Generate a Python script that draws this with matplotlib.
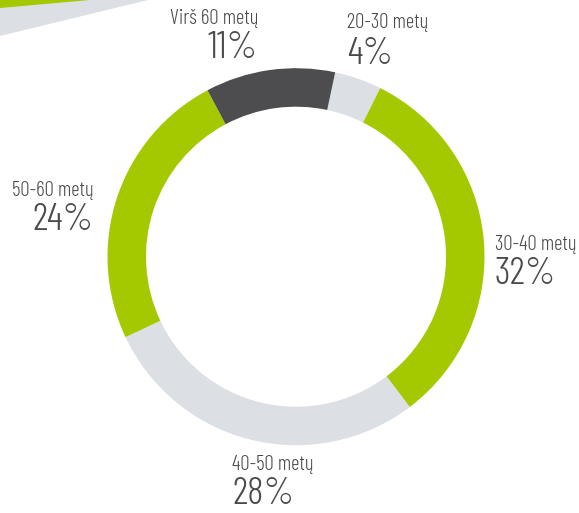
import matplotlib.pyplot as plt
from matplotlib.patches import Polygon

# age groups, in the order the ring is drawn (clockwise from just right of top)
groups = ["20-30 metų", "30-40 metų", "40-50 metų", "50-60 metų", "Virš 60 metų"]
shares = [4, 32, 28, 24, 11]
colors = ["#dcdfe3", "#a5c900", "#dcdfe3", "#a5c900", "#4d4d4f"]

W, H = 579, 513
fig = plt.figure(figsize=(W / 100, H / 100), dpi=100)
ax = fig.add_axes([0, 0, 1, 1])

# decorative bands in the top-left corner
ax.add_patch(Polygon([(0, H), (148, H), (0, H - 36)], closed=True,
                     facecolor="#dcdfe3", edgecolor='none'))
ax.add_patch(Polygon([(0, H), (90, H), (0, H - 8)], closed=True,
                     facecolor="#a5c900", edgecolor='none'))

cx, cy = 296, H - 256.7
ax.pie(shares, colors=colors, startangle=78, counterclock=False,
       center=(cx, cy), radius=188.5, frame=True,
       wedgeprops=dict(width=38.5, edgecolor='none', linewidth=0))
ax.set_xlim(0, W)
ax.set_ylim(0, H)
ax.set_aspect('equal')
ax.axis('off')

font = ['Barlow Condensed', 'DejaVu Sans']
txt = "#4a4a4c"
# label anchor positions (x, y of label line, y of percent line, alignment)
pos = {
    "20-30 metų": (347, 23, 54, 'left'),
    "30-40 metų": (495, 245, 274, 'left'),
    "40-50 metų": (232, 465, 495, 'left'),
    "50-60 metų": (94, 190, 220, 'right'),
    "Virš 60 metų": (258, 18, 48, 'right'),
}
for g, v in zip(groups, shares):
    x, yl, yp, ha = pos[g]
    ax.text(x, H - yl, g, fontsize=15, color=txt, family=font,
            weight=300, ha=ha, va='center')
    ax.text(x, H - yp, f"{v}%", fontsize=28, color=txt, family=font,
            weight=300, ha=ha, va='center')

fig.savefig("out.png", dpi=100)
